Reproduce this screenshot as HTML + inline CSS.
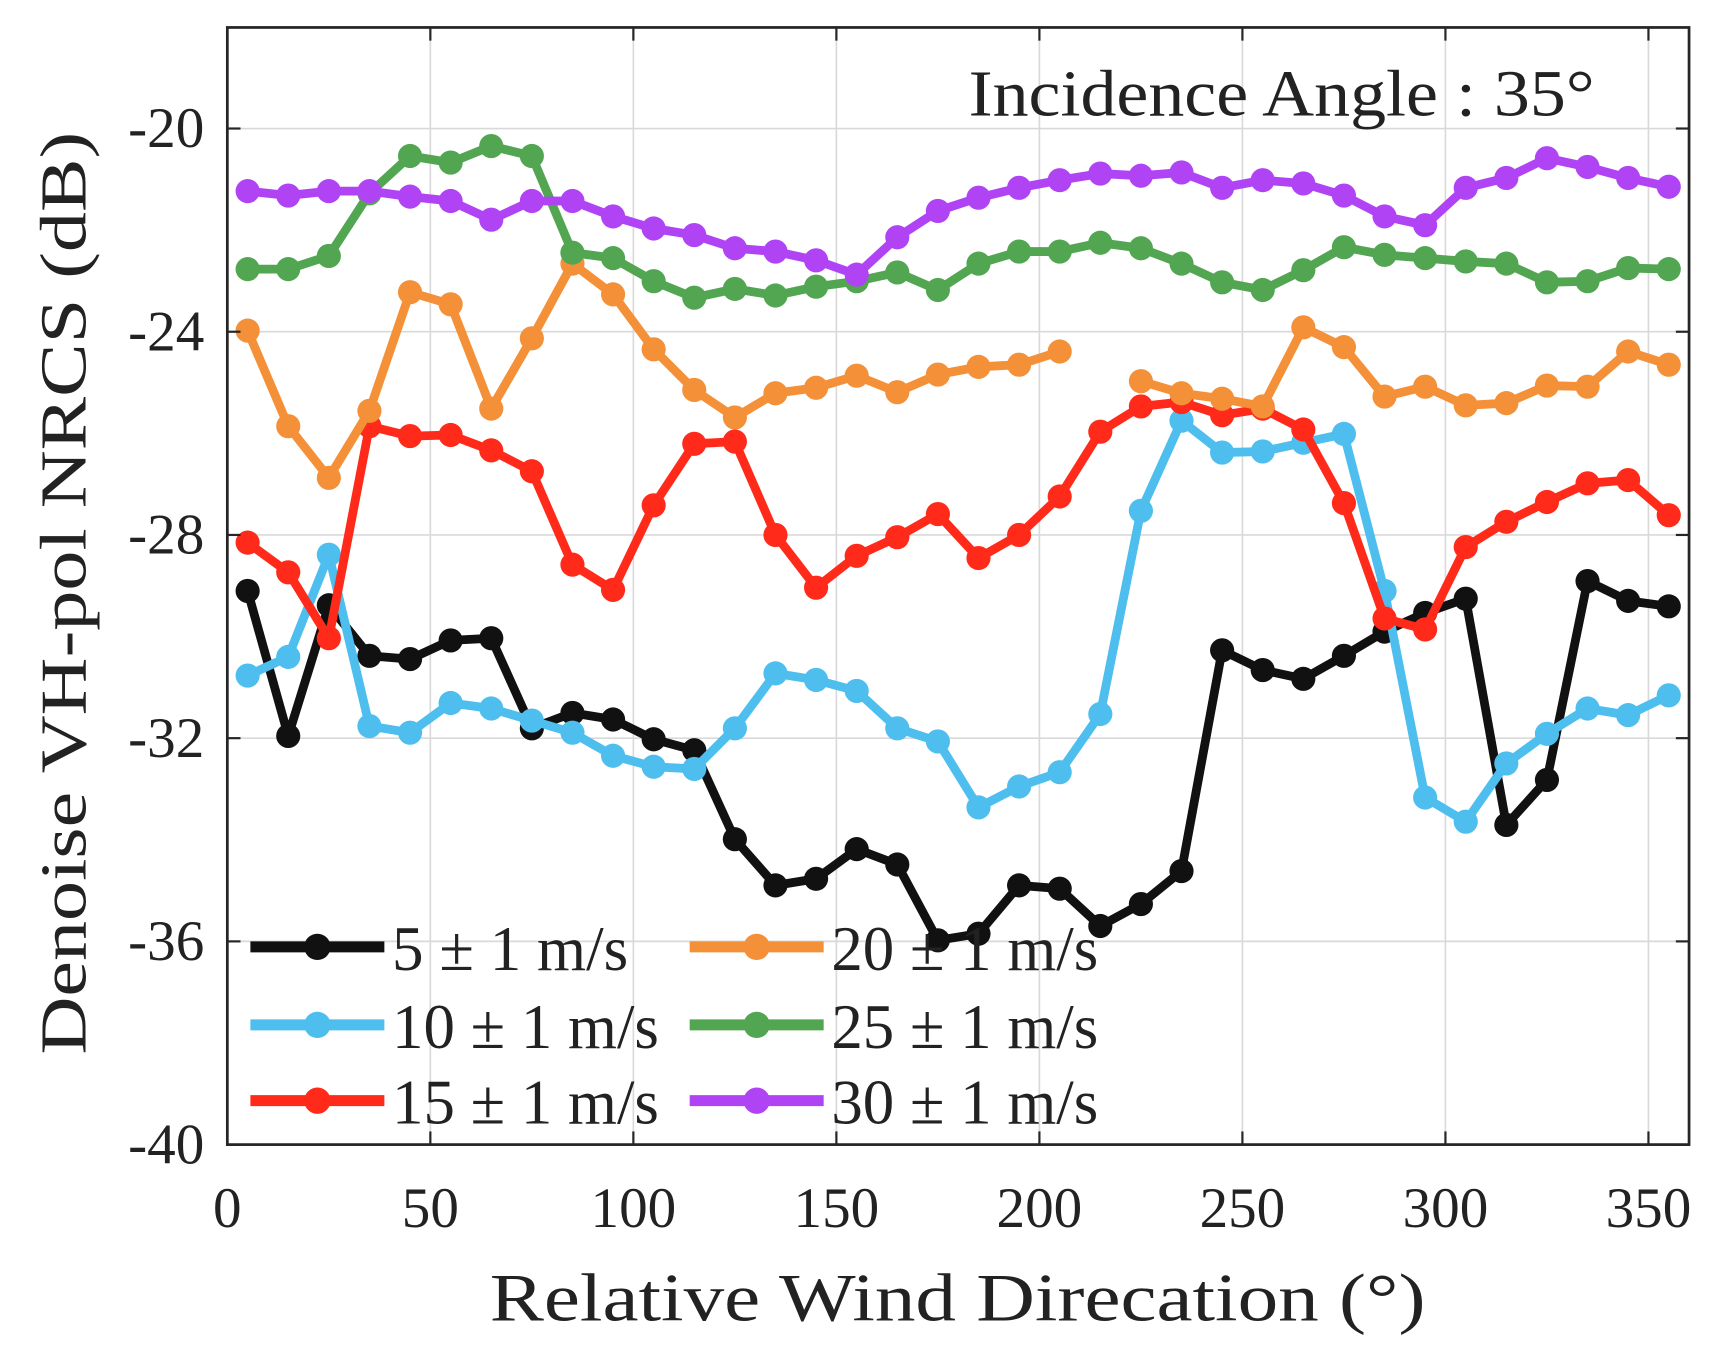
<!DOCTYPE html>
<html><head><meta charset="utf-8"><style>
html,body{margin:0;padding:0;background:#fff;}
svg{display:block;}
text{font-family:"Liberation Serif",serif;fill:#222;}
</style></head><body>
<svg id="s" width="1722" height="1361" viewBox="0 0 1568 1239" preserveAspectRatio="none" xmlns="http://www.w3.org/2000/svg">
<g id="grid" stroke="#d9d9d9" stroke-width="1.5"></g>
<g id="series"></g>
<rect x="207" y="25" width="1331" height="1017" fill="none" stroke="#262626" stroke-width="2.5"/>
<g id="ticks" stroke="#262626" stroke-width="2"></g>
<g id="labels" font-size="52"></g>
<text x="882" y="105" font-size="60" textLength="570" lengthAdjust="spacingAndGlyphs" fill="#111">Incidence Angle : 35°</text>
<text x="872" y="1202" font-size="62" text-anchor="middle" textLength="852" lengthAdjust="spacingAndGlyphs">Relative Wind Direcation (°)</text>
<text transform="translate(78,540) rotate(-90)" font-size="60" text-anchor="middle" textLength="840" lengthAdjust="spacingAndGlyphs">Denoise VH-pol NRCS (dB)</text>
<g id="legend"></g>
</svg>
<script>
const NS="http://www.w3.org/2000/svg";
function el(t,a,p){const e=document.createElementNS(NS,t);for(const k in a)e.setAttribute(k,a[k]);p.appendChild(e);return e;}
const X=d=>207+d*1331/360, Y=v=>117+(-20-v)*46.25;
const g=document.getElementById('grid'),tk=document.getElementById('ticks'),lb=document.getElementById('labels');
for(let d=50;d<=350;d+=50){el('line',{x1:X(d),x2:X(d),y1:25,y2:1042},g);el('line',{x1:X(d),x2:X(d),y1:1042,y2:1030},tk);el('line',{x1:X(d),x2:X(d),y1:25,y2:37},tk);}
for(let d=0;d<=350;d+=50){const t=el('text',{x:X(d),y:1117,'text-anchor':'middle'},lb);t.textContent=d;}
for(let v=-20;v>=-40;v-=4){const y=Y(v);if(v>-40)el('line',{x1:207,x2:1538,y1:y,y2:y},g);el('line',{x1:207,x2:219,y1:y,y2:y},tk);el('line',{x1:1538,x2:1526,y1:y,y2:y},tk);const t=el('text',{x:186,y:y+17,'text-anchor':'end'},lb);t.textContent=v;}
const S=[
["#111111",[538,670,551,597,600,583,581,663,649,655,673,683,764,806,800,773,787,856,850,806,809,843,823,793,592,610,618,597,575,558,545,751,710,529,547,552]],
["#4dbeee",[615,598,505,661,667,640,645,656,667,688,698,700,663,613,619,629,663,675,735,716,703,650,465,383,412,411,403,395,538,726,748,695,668,645,651,633]],
["#ff2a1a",[494,521,581,388,397,396,410,429,514,537,460,404,402,487,535,506,489,468,508,487,452,393,370,366,378,372,391,458,563,573,498,475,457,440,437,469]],
["#f39038",[301,388,435,374,266,277,372,308,240,268,318,355,380,358,353,342,357,341,334,332,320,null,347,358,363,370,298,316,361,352,369,367,351,352,320,332]],
["#52a651",[245,245,233,176,142,148,133,142,230,235,256,271,263,269,261,256,248,264,240,229,229,221,226,240,257,264,246,225,232,235,238,240,257,256,244,245]],
["#b044f5",[174,178,174,174,179,183,200,183,183,197,208,214,226,229,237,250,216,192,180,171,164,158,160,157,171,164,167,178,197,205,171,162,144,152,162,170]]];
const sg=document.getElementById('series');
S.forEach(([c,ys])=>{let segs=[[]];ys.forEach((y,i)=>{if(y===null){segs.push([]);return;}segs[segs.length-1].push([X(5+10*i),y]);});
segs.forEach(s=>{if(s.length)el('polyline',{points:s.map(p=>p.join(',')).join(' '),fill:'none',stroke:c,'stroke-width':8,'stroke-linejoin':'round'},sg);s.forEach(p=>el('circle',{cx:p[0],cy:p[1],r:11,fill:c},sg));});});
const lg=document.getElementById('legend');
const L=[["#111111","5 ± 1 m/s",228,862,215],["#4dbeee","10 ± 1 m/s",228,933,243],["#ff2a1a","15 ± 1 m/s",228,1002,243],["#f39038","20 ± 1 m/s",628,862,243],["#52a651","25 ± 1 m/s",628,933,243],["#b044f5","30 ± 1 m/s",628,1002,243]];
L.forEach(([c,t,x,y,w])=>{el('line',{x1:x,x2:x+122,y1:y,y2:y,stroke:c,'stroke-width':10},lg);el('circle',{cx:x+61,cy:y,r:12,fill:c},lg);const e=el('text',{x:x+129,y:y+21,'font-size':58,textLength:w,lengthAdjust:'spacingAndGlyphs'},lg);e.textContent=t;});
</script>
</body></html>
